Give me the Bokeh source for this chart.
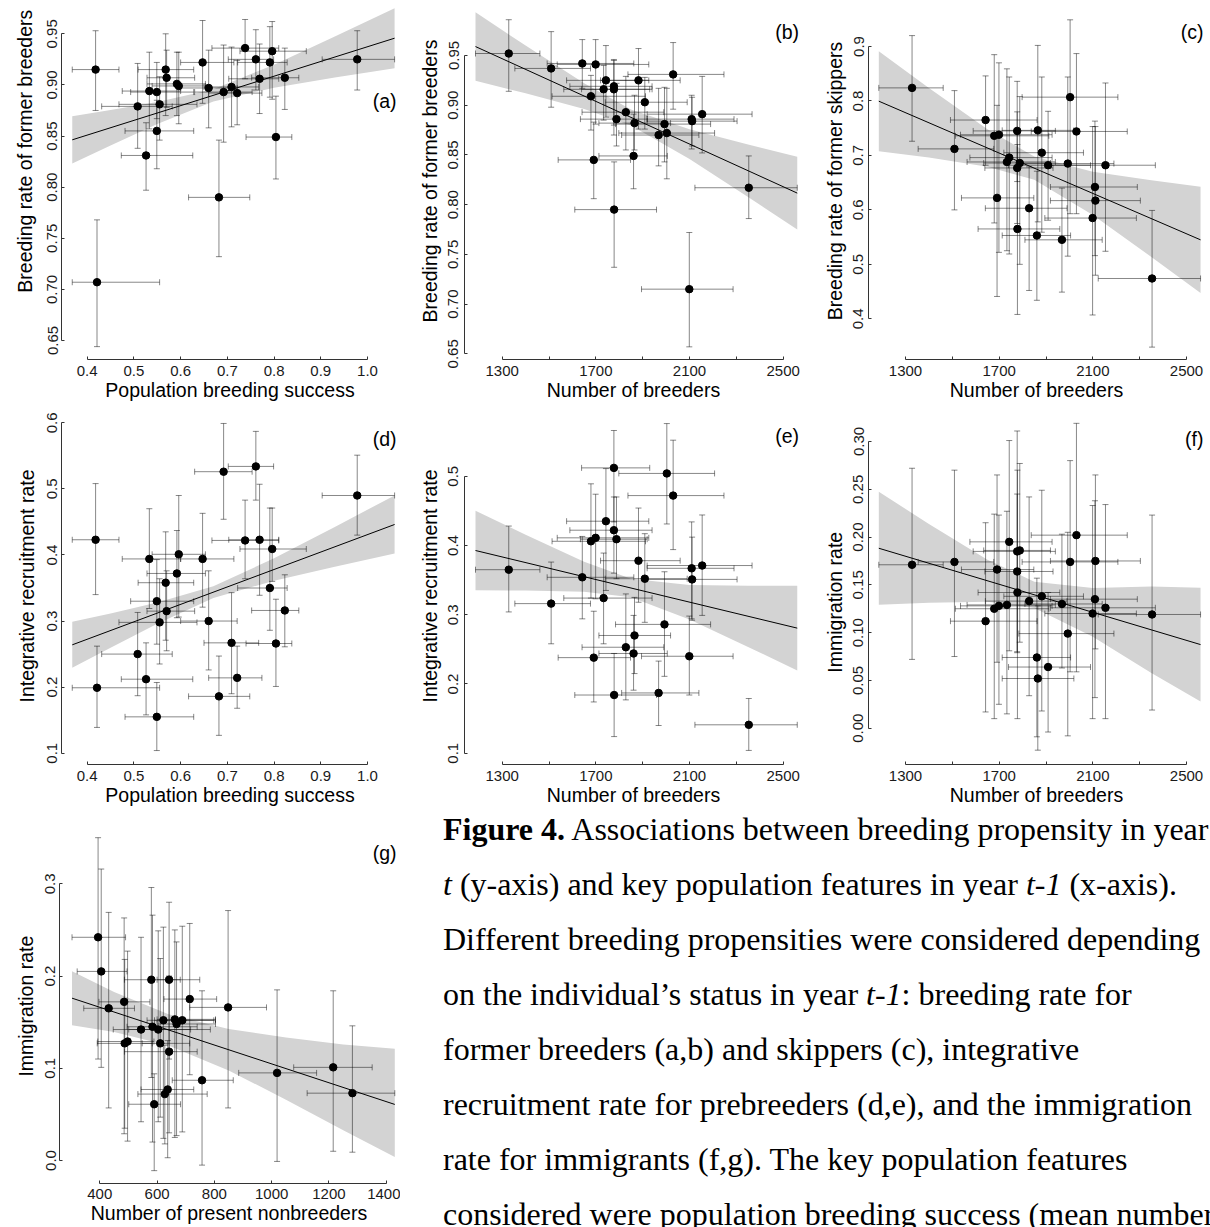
import math
from bokeh.plotting import figure
from bokeh.models import Range1d, FixedTicker, NumeralTickFormatter, Label, Div, ColumnDataSource
from bokeh.layouts import row, column
from bokeh.embed import file_html
from bokeh.resources import INLINE

# ---------------- data ----------------
# population breeding success (x of panels a, d)
pbs = [0.418, 0.421, 0.508, 0.526, 0.533, 0.549, 0.549, 0.555, 0.568, 0.570, 0.592, 0.596, 0.647,
       0.660, 0.682, 0.692, 0.709, 0.721, 0.738, 0.761, 0.769, 0.791, 0.796, 0.804, 0.823, 0.978]
pbs_lo = [0.368, 0.368, 0.431, 0.473, 0.475, 0.493, 0.481, 0.468, 0.509, 0.528, 0.528, 0.539, 0.600,
          0.600, 0.617, 0.630, 0.650, 0.660, 0.667, 0.702, 0.703, 0.722, 0.727, 0.740, 0.752, 0.903]
pbs_hi = [0.468, 0.555, 0.582, 0.626, 0.600, 0.628, 0.628, 0.635, 0.628, 0.630, 0.653, 0.653, 0.714,
          0.721, 0.748, 0.753, 0.767, 0.774, 0.810, 0.799, 0.810, 0.828, 0.869, 0.838, 0.853, 1.058]

a_y = [0.915, 0.707, 0.879, 0.831, 0.894, 0.893, 0.855, 0.881, 0.915, 0.907, 0.901, 0.899, 0.922,
       0.897, 0.790, 0.893, 0.898, 0.892, 0.936, 0.925, 0.906, 0.922, 0.933, 0.849, 0.907, 0.925]
a_lo = [0.875, 0.644, 0.838, 0.797, 0.857, 0.867, 0.818, 0.846, 0.870, 0.878, 0.870, 0.862, 0.882,
        0.858, 0.732, 0.844, 0.859, 0.861, 0.906, 0.895, 0.872, 0.888, 0.886, 0.808, 0.876, 0.895]
a_hi = [0.953, 0.768, 0.921, 0.863, 0.932, 0.922, 0.885, 0.908, 0.950, 0.934, 0.932, 0.932, 0.963,
        0.934, 0.846, 0.939, 0.937, 0.924, 0.964, 0.954, 0.940, 0.957, 0.962, 0.889, 0.936, 0.953]

d_y = [0.423, 0.199, 0.250, 0.212, 0.394, 0.330, 0.155, 0.298, 0.358, 0.315, 0.372, 0.401, 0.394,
       0.300, 0.186, 0.526, 0.267, 0.214, 0.422, 0.534, 0.423, 0.350, 0.409, 0.266, 0.316, 0.490]
d_lo = [0.340, 0.139, 0.187, 0.158, 0.319, 0.265, 0.104, 0.235, 0.271, 0.255, 0.305, 0.306, 0.321,
        0.226, 0.127, 0.454, 0.190, 0.168, 0.364, 0.483, 0.339, 0.286, 0.360, 0.201, 0.261, 0.430]
d_hi = [0.508, 0.262, 0.313, 0.267, 0.470, 0.393, 0.207, 0.364, 0.435, 0.376, 0.437, 0.490, 0.463,
        0.376, 0.247, 0.599, 0.343, 0.262, 0.483, 0.587, 0.507, 0.471, 0.471, 0.333, 0.370, 0.551]

# number of breeders (x of panels b, c, e, f)
nb = [1328, 1509, 1642, 1679, 1691, 1699, 1733, 1743, 1777, 1777, 1778, 1788, 1828,
      1861, 1865, 1882, 1909, 1968, 1993, 2003, 2030, 2099, 2109, 2111, 2154, 2353]
nb_lo = [1186, 1354, 1492, 1513, 1539, 1535, 1563, 1575, 1589, 1639, 1610, 1634, 1641,
         1713, 1713, 1720, 1740, 1810, 1784, 1798, 1837, 1895, 1919, 1919, 1919, 2123]
nb_hi = [1461, 1677, 1862, 1912, 1848, 1926, 1940, 1926, 1940, 1930, 1959, 1919, 1990,
         2005, 2019, 2060, 2090, 2140, 2190, 2207, 2247, 2286, 2290, 2303, 2367, 2560]

b_y = [0.952, 0.937, 0.942, 0.909, 0.845, 0.941, 0.916, 0.925, 0.919, 0.916, 0.795, 0.886, 0.893,
       0.849, 0.882, 0.925, 0.903, 0.870, 0.881, 0.872, 0.931, 0.715, 0.886, 0.884, 0.891, 0.817]
b_lo = [0.914, 0.898, 0.917, 0.875, 0.806, 0.881, 0.885, 0.888, 0.880, 0.870, 0.737, 0.859, 0.855,
        0.816, 0.855, 0.876, 0.876, 0.839, 0.843, 0.826, 0.896, 0.657, 0.856, 0.859, 0.852, 0.786]
b_hi = [0.986, 0.974, 0.966, 0.930, 0.883, 0.966, 0.940, 0.960, 0.946, 0.945, 0.843, 0.922, 0.929,
        0.891, 0.910, 0.957, 0.928, 0.917, 0.918, 0.917, 0.963, 0.772, 0.910, 0.908, 0.929, 0.849]

c_y = [0.824, 0.712, 0.765, 0.736, 0.622, 0.738, 0.688, 0.696, 0.745, 0.677, 0.565, 0.686, 0.603,
       0.553, 0.746, 0.705, 0.682, 0.545, 0.685, 0.807, 0.744, 0.585, 0.642, 0.617, 0.682, 0.474]
c_lo = [0.726, 0.600, 0.682, 0.576, 0.441, 0.522, 0.525, 0.519, 0.652, 0.575, 0.408, 0.500, 0.452,
        0.434, 0.578, 0.559, 0.581, 0.449, 0.515, 0.593, 0.593, 0.407, 0.516, 0.480, 0.524, 0.348]
c_hi = [0.920, 0.819, 0.846, 0.885, 0.792, 0.870, 0.859, 0.844, 0.836, 0.780, 0.720, 0.808, 0.679,
        0.671, 0.902, 0.844, 0.781, 0.640, 0.844, 0.949, 0.887, 0.753, 0.763, 0.753, 0.833, 0.599]

e_y = [0.365, 0.316, 0.354, 0.406, 0.238, 0.411, 0.324, 0.435, 0.422, 0.512, 0.184, 0.409, 0.253,
       0.244, 0.270, 0.378, 0.352, 0.187, 0.286, 0.504, 0.472, 0.240, 0.367, 0.351, 0.371, 0.141]
e_lo = [0.304, 0.258, 0.294, 0.324, 0.174, 0.323, 0.258, 0.335, 0.360, 0.434, 0.124, 0.352, 0.177,
        0.191, 0.215, 0.318, 0.289, 0.140, 0.211, 0.431, 0.394, 0.184, 0.294, 0.292, 0.299, 0.104]
e_hi = [0.428, 0.376, 0.413, 0.489, 0.305, 0.474, 0.389, 0.511, 0.470, 0.566, 0.244, 0.470, 0.330,
        0.299, 0.325, 0.454, 0.417, 0.233, 0.362, 0.576, 0.552, 0.298, 0.434, 0.412, 0.444, 0.179]

f_y = [0.171, 0.174, 0.112, 0.125, 0.166, 0.128, 0.129, 0.195, 0.185, 0.164, 0.142, 0.186, 0.133,
       0.074, 0.052, 0.138, 0.064, 0.130, 0.099, 0.174, 0.202, 0.120, 0.135, 0.175, 0.126, 0.119]
f_lo = [0.072, 0.075, 0.017, 0.010, 0.069, 0.025, 0.015, 0.081, 0.079, 0.080, 0.010, 0.090, 0.034,
        -0.009, -0.023, 0.018, -0.004, 0.063, -0.008, 0.059, 0.059, 0.010, 0.032, 0.083, 0.010, 0.019]
f_hi = [0.272, 0.270, 0.215, 0.224, 0.265, 0.223, 0.227, 0.301, 0.311, 0.245, 0.270, 0.277, 0.242,
        0.157, 0.128, 0.249, 0.142, 0.203, 0.205, 0.280, 0.319, 0.233, 0.238, 0.265, 0.234, 0.223]

# number of present nonbreeders (x of panel g)
g_x = [394, 405, 431, 485, 487, 497, 544, 580, 584, 590, 604, 611, 622,
       627, 637, 642, 642, 662, 668, 688, 714, 757, 848, 1019, 1215, 1282]
g_xlo = [303, 321, 344, 397, 391, 393, 447, 486, 495, 501, 501, 548, 565,
         533, 544, 486, 600, 600, 600, 591, 624, 653, 714, 885, 1077, 1124]
g_xhi = [490, 495, 521, 575, 583, 589, 717, 681, 740, 682, 786, 714, 804,
         775, 728, 740, 749, 804, 804, 798, 808, 866, 982, 1157, 1351, 1430]
g_y = [0.242, 0.205, 0.165, 0.172, 0.127, 0.129, 0.142, 0.196, 0.145, 0.061, 0.142, 0.127, 0.152,
       0.072, 0.077, 0.118, 0.196, 0.153, 0.148, 0.152, 0.175, 0.087, 0.166, 0.095, 0.101, 0.073]
g_lo = [0.110, 0.101, 0.057, 0.029, 0.035, 0.021, 0.042, 0.090, 0.020, -0.011, 0.042, 0.047, 0.024,
        0.018, 0.003, 0.030, 0.110, 0.025, 0.027, 0.031, 0.093, -0.005, 0.057, -0.001, 0.010, 0.009]
g_hi = [0.350, 0.316, 0.269, 0.263, 0.218, 0.227, 0.242, 0.296, 0.266, 0.094, 0.249, 0.219, 0.253,
        0.125, 0.130, 0.200, 0.280, 0.250, 0.237, 0.254, 0.257, 0.184, 0.271, 0.185, 0.184, 0.146]

# fitted lines (end points) and confidence bands
band_x_pbs = [0.368, 0.45, 0.55, 0.67, 0.80, 0.93, 1.058]
band_x_nb = [1186, 1400, 1650, 1850, 2100, 2350, 2560]
band_x_g = [303, 450, 640, 850, 1050, 1250, 1430]

a_fit = [0.8463, 0.9457]
a_band_lo = [0.8232, 0.8408, 0.8618, 0.8838, 0.8972, 0.9072, 0.9164]
a_band_hi = [0.8694, 0.8754, 0.8832, 0.8958, 0.9198, 0.9474, 0.9750]
d_fit = [0.264, 0.4461]
d_band_lo = [0.2292, 0.2597, 0.2960, 0.3347, 0.3611, 0.3821, 0.4021]
d_band_hi = [0.2988, 0.3115, 0.3280, 0.3527, 0.3949, 0.4425, 0.4901]
b_fit = [0.959, 0.8116]
b_band_lo = [0.9246, 0.9120, 0.8963, 0.8797, 0.8460, 0.8077, 0.7750]
b_band_hi = [0.9934, 0.9600, 0.9221, 0.8957, 0.8758, 0.8605, 0.8482]
c_fit = [0.7996, 0.545]
c_band_lo = [0.7078, 0.6960, 0.6793, 0.6553, 0.5905, 0.5135, 0.4474]
c_band_hi = [0.8914, 0.8240, 0.7479, 0.6979, 0.6699, 0.6543, 0.6426]
e_fit = [0.3927, 0.2806]
e_band_lo = [0.3352, 0.3350, 0.3333, 0.3251, 0.2932, 0.2535, 0.2194]
e_band_hi = [0.4502, 0.4154, 0.3763, 0.3519, 0.3430, 0.3419, 0.3418]
f_fit = [0.1883, 0.0875]
f_band_lo = [0.1293, 0.1314, 0.1323, 0.1259, 0.0958, 0.0577, 0.0280]
f_band_hi = [0.2473, 0.2138, 0.1763, 0.1533, 0.1468, 0.1483, 0.1470]
g_fit = [0.176, 0.0608]
g_band_lo = [0.1467, 0.1394, 0.1247, 0.0976, 0.0660, 0.0328, 0.0037]
g_band_hi = [0.2053, 0.1826, 0.1585, 0.1426, 0.1334, 0.1258, 0.1211]

# ticks and tick labels
pbs_ticks = [0.4, 0.5, 0.6, 0.7, 0.8, 0.9, 1.0]
pbs_labels = ["0.4", "0.5", "0.6", "0.7", "0.8", "0.9", "1.0"]
nb_ticks = [1300, 1500, 1700, 1900, 2100, 2300, 2500]
nb_labels = ["1300", "", "1700", "", "2100", "", "2500"]
g_xticks = [400, 600, 800, 1000, 1200, 1400]
g_xlabels = ["400", "600", "800", "1000", "1200", "1400"]
ab_yticks = [0.65, 0.70, 0.75, 0.80, 0.85, 0.90, 0.95]
ab_ylabels = ["0.65", "0.70", "0.75", "0.80", "0.85", "0.90", "0.95"]
c_yticks = [0.4, 0.5, 0.6, 0.7, 0.8, 0.9]
c_ylabels = ["0.4", "0.5", "0.6", "0.7", "0.8", "0.9"]
d_yticks = [0.1, 0.2, 0.3, 0.4, 0.5, 0.6]
d_ylabels = ["0.1", "0.2", "0.3", "0.4", "0.5", "0.6"]
e_yticks = [0.1, 0.2, 0.3, 0.4, 0.5]
e_ylabels = ["0.1", "0.2", "0.3", "0.4", "0.5"]
f_yticks = [0.00, 0.05, 0.10, 0.15, 0.20, 0.25, 0.30]
f_ylabels = ["0.00", "0.05", "0.10", "0.15", "0.20", "0.25", "0.30"]
g_yticks = [0.0, 0.1, 0.2, 0.3]
g_ylabels = ["0.0", "0.1", "0.2", "0.3"]

# ---------------- styling ----------------
SANS = "Liberation Sans"
BAR = "black"
BAR_ALPHA = 0.47
RIBBON = "#d3d3d3"
NBSP = "\u00a0"


def make_panel(box, frame, xcal, ycal, xticks, xlabels, xfmt, yticks, ylabels, yfmt,
               x, xlo, xhi, y, ylo, yhi, bx, blo, bhi, fit,
               tag, tag_px, xlabel, ylabel, ylabel_standoff=7, xtick_standoff=6, ytick_standoff=5):
    x0, y0, w, h = box
    l, r, t, b = frame

    def px2x(px):
        v1, p1, v2, p2 = xcal
        return v1 + (px - p1) * (v2 - v1) / (p2 - p1)

    def px2y(py):
        v1, p1, v2, p2 = ycal
        return v1 + (py - p1) * (v2 - v1) / (p2 - p1)

    p = figure(width=w, height=h,
               x_range=Range1d(px2x(l), px2x(r)), y_range=Range1d(px2y(b), px2y(t)),
               output_backend="svg", toolbar_location=None,
               min_border_left=l - x0, min_border_right=x0 + w - r,
               min_border_top=t - y0, min_border_bottom=y0 + h - b)
    p.outline_line_color = None
    p.xgrid.visible = False
    p.ygrid.visible = False
    p.background_fill_color = "white"
    p.border_fill_color = "white"

    for ax, ticks, labels, fmt in ((p.xaxis[0], xticks, xlabels, xfmt), (p.yaxis[0], yticks, ylabels, yfmt)):
        ax.ticker = FixedTicker(ticks=ticks, minor_ticks=[])
        ax.formatter = NumeralTickFormatter(format=fmt)
        ax.major_label_overrides = {tk: lb for tk, lb in zip(ticks, labels)}
        ax.bounds = (ticks[0], ticks[-1])
        ax.axis_line_color = "#333333"
        ax.axis_line_width = 1
        ax.major_tick_line_color = "#333333"
        ax.major_tick_in = 3
        ax.major_tick_out = 0
        ax.minor_tick_line_color = None
        ax.major_label_text_font = SANS
        ax.major_label_text_font_size = "15px"
        ax.major_label_text_color = "#1a1a1a"
        ax.axis_label_text_font = SANS
        ax.axis_label_text_font_size = "19.5px"
        ax.axis_label_text_font_style = "normal"
        ax.axis_label_text_color = "black"
    p.xaxis.major_label_standoff = xtick_standoff
    p.yaxis.major_label_standoff = ytick_standoff
    p.yaxis.major_label_orientation = "vertical"
    p.xaxis.axis_label = xlabel
    p.xaxis.axis_label_standoff = 0
    p.yaxis.axis_label = ylabel
    p.yaxis.axis_label_standoff = ylabel_standoff

    # confidence band and fitted line
    p.varea(x=bx, y1=blo, y2=bhi, fill_color=RIBBON, fill_alpha=1.0)
    p.line(x=[bx[0], bx[-1]], y=fit, line_color="black", line_width=1)

    src = ColumnDataSource(dict(x=x, y=y, xlo=xlo, xhi=xhi, ylo=ylo, yhi=yhi))
    p.segment(x0="x", y0="ylo", x1="x", y1="yhi", source=src,
              line_color=BAR, line_alpha=BAR_ALPHA, line_width=1)
    p.segment(x0="xlo", y0="y", x1="xhi", y1="y", source=src,
              line_color=BAR, line_alpha=BAR_ALPHA, line_width=1)
    for cx, cy, ang in (("x", "ylo", 0), ("x", "yhi", 0), ("xlo", "y", math.pi / 2), ("xhi", "y", math.pi / 2)):
        p.scatter(x=cx, y=cy, source=src, marker="dash", size=6, angle=ang,
                  line_color=BAR, line_alpha=BAR_ALPHA, line_width=1)
    p.scatter(x="x", y="y", source=src, size=7.5, fill_color="black", line_color="black")

    # panel tag
    p.add_layout(Label(x=px2x(tag_px[0]), y=px2y(tag_px[1]), text=tag, text_font=SANS,
                       text_font_size="19.5px", text_align="right", text_baseline="middle",
                       text_color="black"))
    return p


XCAL_PBS = (0.4, 86.7, 1.0, 367.0)
XCAL_NB_MID = (1300, 501.7, 2500, 782.7)
XCAL_NB_RIGHT = (1300, 905.0, 2500, 1186.0)

pa = make_panel((0, 0, 400, 405), (61, 398, 2, 359), XCAL_PBS, (0.95, 33.3, 0.65, 340.0),
                pbs_ticks, pbs_labels, "0.0", ab_yticks, ab_ylabels, "0.00",
                pbs, pbs_lo, pbs_hi, a_y, a_lo, a_hi, band_x_pbs, a_band_lo, a_band_hi, a_fit,
                "(a)", (396, 100), "Population breeding success",
                NBSP * 11 + "Breeding rate of former breeders", ylabel_standoff=9, ytick_standoff=4)
pb = make_panel((400, 0, 405, 405), (464, 802, 2, 359), XCAL_NB_MID, (0.95, 55.0, 0.65, 353.3),
                nb_ticks, nb_labels, "0", ab_yticks, ab_ylabels, "0.00",
                nb, nb_lo, nb_hi, b_y, b_lo, b_hi, band_x_nb, b_band_lo, b_band_hi, b_fit,
                "(b)", (798.5, 31.7), "Number of breeders",
                "Breeding rate of former breeders", ylabel_standoff=5, ytick_standoff=6)
pc = make_panel((805, 0, 405, 405), (868, 1204, 2, 359), XCAL_NB_RIGHT, (0.9, 46.0, 0.4, 318.3),
                nb_ticks, nb_labels, "0", c_yticks, c_ylabels, "0.0",
                nb, nb_lo, nb_hi, c_y, c_lo, c_hi, band_x_nb, c_band_lo, c_band_hi, c_fit,
                "(c)", (1203, 31.7), "Number of breeders",
                "Breeding rate of former skippers", ylabel_standoff=5)
pd = make_panel((0, 405, 400, 405), (61, 398, 407, 764), XCAL_PBS, (0.6, 422.3, 0.1, 752.7),
                pbs_ticks, pbs_labels, "0.0", d_yticks, d_ylabels, "0.0",
                pbs, pbs_lo, pbs_hi, d_y, d_lo, d_hi, band_x_pbs, d_band_lo, d_band_hi, d_fit,
                "(d)", (396, 438), "Population breeding success",
                "Integrative recruitment rate", ylabel_standoff=7, ytick_standoff=4)
pe = make_panel((400, 405, 405, 405), (464, 802, 407, 764), XCAL_NB_MID, (0.5, 475.7, 0.1, 752.7),
                nb_ticks, nb_labels, "0", e_yticks, e_ylabels, "0.0",
                nb, nb_lo, nb_hi, e_y, e_lo, e_hi, band_x_nb, e_band_lo, e_band_hi, e_fit,
                "(e)", (798.5, 435), "Number of breeders",
                "Integrative recruitment rate", ylabel_standoff=5, ytick_standoff=6)
pf = make_panel((805, 405, 405, 405), (868, 1204, 407, 764), XCAL_NB_RIGHT, (0.30, 441.0, 0.0, 727.7),
                nb_ticks, nb_labels, "0", f_yticks, f_ylabels, "0.00",
                nb, nb_lo, nb_hi, f_y, f_lo, f_hi, band_x_nb, f_band_lo, f_band_hi, f_fit,
                "(f)", (1203, 438), "Number of breeders",
                "Immigration rate" + NBSP * 6, ylabel_standoff=5)
pg = make_panel((0, 810, 400, 417), (59, 398, 812, 1183), (400, 99.3, 1400, 385.7), (0.3, 883.3, 0.0, 1160.0),
                g_xticks, g_xlabels, "0", g_yticks, g_ylabels, "0.0",
                g_x, g_xlo, g_xhi, g_y, g_lo, g_hi, band_x_g, g_band_lo, g_band_hi, g_fit,
                "(g)", (396, 852), "Number of present nonbreeders",
                "Immigration rate" + NBSP * 3, ylabel_standoff=6, xtick_standoff=5, ytick_standoff=4)

caption_lines = [
    "<b>Figure 4.</b> Associations between breeding propensity in year",
    "<i>t</i> (y-axis) and key population features in year <i>t-1</i> (x-axis).",
    "Different breeding propensities were considered depending",
    "on the individual\u2019s status in year <i>t-1</i>: breeding rate for",
    "former breeders (a,b) and skippers (c), integrative",
    "recruitment rate for prebreeders (d,e), and the immigration",
    "rate for immigrants (f,g). The key population features",
    "considered were population breeding success (mean number",
]
caption_html = ('<div style="font-family:\'Liberation Serif\',\'Times New Roman\',serif; font-size:32px; '
                'line-height:55px; color:#000; white-space:nowrap; position:relative; top:-8px; '
                'padding-left:43px; margin:0;">' + "<br>".join(caption_lines) + "</div>")
caption = Div(text=caption_html, width=810, height=417, styles={"overflow": "hidden", "margin": "0"})

layout = column(row(pa, pb, pc), row(pd, pe, pf), row(pg, caption))

open("out.html", "w").write(file_html(layout, INLINE))
